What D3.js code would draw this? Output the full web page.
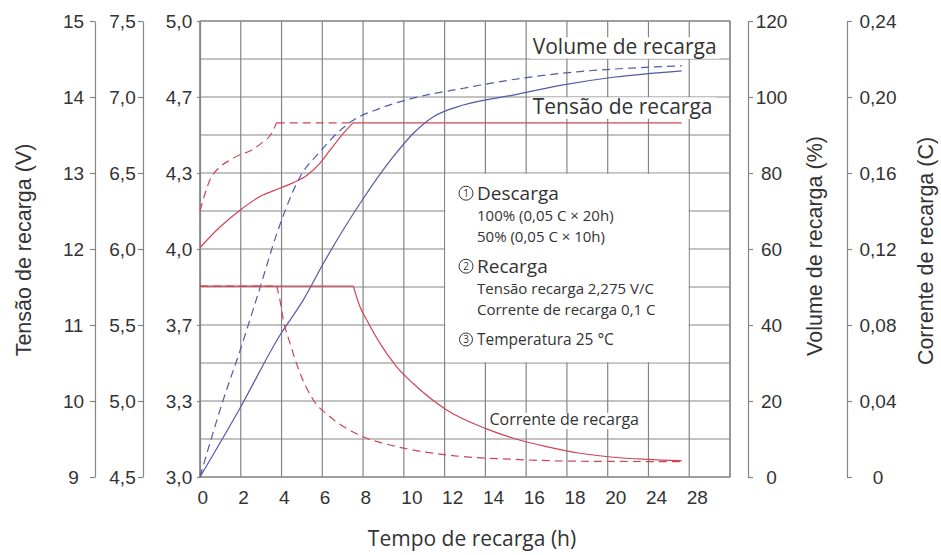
<!DOCTYPE html>
<html>
<head>
<meta charset="utf-8">
<script src="https://cdn.jsdelivr.net/npm/d3@7/dist/d3.min.js"></script>
<style>
html,body{margin:0;padding:0;background:#fff;}
svg{display:block;}
</style>
</head>
<body>
<svg id="chart" width="941" height="555"></svg>
<script>
// ---------- DATA ----------
// x axis: time in grid units (each column = 2 units); labels as printed
const xTickValues = [0,2,4,6,8,10,12,14,16,18,20,22,24];
const xTickLabels = ["0","2","4","6","8","10","12","14","16","18","20","24","28"];

// left axes
const voltTicks = [9,10,11,12,13,14,15];
const voltLabels = ["9","10","11","12","13","14","15"];
const volt2Ticks = [4.5,5.0,5.5,6.0,6.5,7.0,7.5];
const volt2Labels = ["4,5","5,0","5,5","6,0","6,5","7,0","7,5"];
const cellTicks = [3.0,3.333,3.667,4.0,4.333,4.667,5.0];
const cellLabels = ["3,0","3,3","3,7","4,0","4,3","4,7","5,0"];
// right axes
const volTicks = [0,20,40,60,80,100,120];
const volLabels = ["0","20","40","60","80","100","120"];
const curTicks = [0,0.04,0.08,0.12,0.16,0.20,0.24];
const curLabels = ["0","0,04","0,08","0,12","0,16","0,20","0,24"];

// Tensão de recarga (V) — 100% discharge (solid) and 50% discharge (dashed)
const tensao100Rise = [[0,12.02],[0.98,12.29],[1.96,12.51],[2.94,12.69],[3.92,12.80],[4.56,12.87],[5.25,12.97],[5.89,13.13],[6.38,13.30],[6.87,13.47],[7.5,13.66]];
const tensao100Flat = [[7.5,13.66],[23.63,13.66]];
const tensao50Rise = [[0,12.5],[0.49,12.91],[0.98,13.08],[1.47,13.17],[1.96,13.24],[2.45,13.29],[3.1,13.41],[3.43,13.49],[3.76,13.66]];
const tensao50Flat = [[3.76,13.66],[7.5,13.66]];

// Volume de recarga (%)
const vol100 = [[0,0],[1.96,18.1],[3.92,37.3],[5.07,46.6],[6.05,56.2],[8.01,73.3],[9.48,84.3],[10.46,90.4],[11.45,94.8],[12.92,97.9],[15.37,100.5],[17.82,103.2],[20.27,105.2],[23.63,106.9]];
const vol50 = [[0,0],[1.14,20.3],[1.96,33.2],[2.78,47.0],[3.92,66.4],[4.91,79.0],[5.89,85.6],[6.71,90.4],[7.52,93.9],[8.83,97.0],[10.46,99.7],[12.92,102.3],[15.37,104.6],[18.64,106.7],[21.09,107.6],[23.63,108.2]];

// Corrente de recarga (C)
const cur100Flat = [[0,0.1005],[7.52,0.1005]];
const cur100Decay = [[7.52,0.1005],[7.85,0.0896],[8.18,0.0826],[8.83,0.0703],[9.65,0.0580],[10.46,0.0492],[12.1,0.0353],[14.0,0.0256],[15.37,0.0204],[17.0,0.0160],[18.64,0.0125],[20.27,0.0104],[21.9,0.0093],[23.63,0.0086]];
const cur50Flat = [[0,0.1005],[3.76,0.1005]];
const cur50Decay = [[3.76,0.1005],[3.92,0.0932],[4.09,0.0826],[4.42,0.0703],[4.91,0.0546],[5.56,0.0405],[6.38,0.0317],[8.01,0.0212],[9.65,0.0160],[12.1,0.0116],[15.37,0.0093],[18.64,0.0083],[23.63,0.0081]];

// texts
const annotations = [
  {text:"Volume de recarga", x:16.32, v:14.57},
  {text:"Tensão de recarga", x:16.32, v:13.78},
  {text:"Corrente de recarga", x:14.2, v:9.68}
];
const legendItems = [
  {num:"1", head:"Descarga", lines:["100% (0,05 C × 20h)","50% (0,05 C × 10h)"]},
  {num:"2", head:"Recarga", lines:["Tensão recarga 2,275 V/C","Corrente de recarga 0,1 C"]},
  {num:"3", head:"Temperatura 25 °C", lines:[]}
];

// ---------- LAYOUT ----------
const L = 200, R = 730, T = 21, B = 477;
const svg = d3.select("#chart");
const GRID = "#858585";
const RED = "#d04454";
const BLUE = "#5259a8";
const TXT = "#333";
const tickFont = "'Liberation Sans', Arial, sans-serif";
const annFont = "'Open Sans', 'Noto Sans', sans-serif";

const x = d3.scaleLinear().domain([0,26]).range([L,R]);
const yV = d3.scaleLinear().domain([9,15]).range([B,T]);
const yV2 = d3.scaleLinear().domain([4.5,7.5]).range([B,T]);
const yCell = d3.scaleLinear().domain([3,5]).range([B,T]);
const yVol = d3.scaleLinear().domain([0,120]).range([B,T]);
const yCur = d3.scaleLinear().domain([0,0.24]).range([B,T]);

// ---------- GRID ----------
const grid = svg.append("g");
const gridX = d3.range(0, 27, 2);
const gridY = d3.range(9, 15.01, 0.5);
grid.selectAll("line.vx").data(gridX).join("line")
  .attr("x1", d => x(d)).attr("x2", d => x(d))
  .attr("y1", T).attr("y2", B)
  .attr("stroke", GRID).attr("stroke-width", 1.2);
grid.selectAll("line.hy").data(gridY).join("line")
  .attr("x1", L).attr("x2", R)
  .attr("y1", d => yV(d)).attr("y2", d => yV(d))
  .attr("stroke", GRID).attr("stroke-width", 1.2);

// legend box (white, between grid lines)
svg.append("rect")
  .attr("x", x(12) + 0.7).attr("y", yV(13) + 0.7)
  .attr("width", x(24) - x(12) - 1.4).attr("height", yV(10.5) - yV(13) - 1.4)
  .attr("fill", "#fff");

// ---------- AXES ----------
function styleAxis(g){
  g.selectAll("path.domain").attr("stroke", GRID).attr("stroke-width", 1.2);
  g.selectAll(".tick line").attr("stroke", GRID).attr("stroke-width", 1.2);
  g.selectAll(".tick text").attr("fill", TXT)
    .style("font-family", tickFont).style("font-size", "19px");
}
function leftAxis(scale, ticks, labels, xpos, labelCenter){
  const g = svg.append("g").attr("transform", `translate(${xpos},0)`)
    .call(d3.axisLeft(scale).tickValues(ticks).tickFormat((d,i)=>labels[i]).tickSize(5).tickSizeOuter(0));
  styleAxis(g);
  g.selectAll(".tick text").attr("text-anchor","middle").attr("x", labelCenter - xpos);
  return g;
}
function rightAxis(scale, ticks, labels, xpos, labelCenter){
  const g = svg.append("g").attr("transform", `translate(${xpos},0)`)
    .call(d3.axisRight(scale).tickValues(ticks).tickFormat((d,i)=>labels[i]).tickSize(5).tickSizeOuter(0));
  styleAxis(g);
  g.selectAll(".tick text").attr("text-anchor","middle").attr("x", labelCenter - xpos);
  return g;
}
leftAxis(yV, voltTicks, voltLabels, 95, 73.5);
leftAxis(yV2, volt2Ticks, volt2Labels, 143, 122.5);
const ax3 = leftAxis(yCell, cellTicks, cellLabels, L, 179);
ax3.selectAll(".tick line").attr("x2", -3);
rightAxis(yVol, volTicks, volLabels, 748, 771.5);
rightAxis(yCur, curTicks, curLabels, 847, 878);

// bottom axis (labels only)
const gx = svg.append("g").attr("transform", `translate(0,${B})`)
  .call(d3.axisBottom(x).tickValues(xTickValues).tickFormat((d,i)=>xTickLabels[i]).tickSize(0).tickSizeOuter(0));
gx.select("path.domain").remove();
gx.selectAll(".tick text").attr("fill", TXT)
  .style("font-family", tickFont).style("font-size", "19px")
  .attr("text-anchor","start").attr("x", -3).attr("y", 27).attr("dy", 0);

// frame
svg.append("rect").attr("x", L).attr("y", T).attr("width", R-L).attr("height", B-T)
  .attr("fill","none").attr("stroke", GRID).attr("stroke-width", 1.2);

// ---------- AXIS TITLES ----------
function vTitle(txt, xp, yp){
  svg.append("text").attr("transform", `translate(${xp},${yp}) rotate(-90)`)
    .attr("text-anchor","middle").attr("fill", TXT)
    .style("font-family", tickFont).style("font-size","21.5px").text(txt);
}
vTitle("Tensão de recarga (V)", 31, 250);
vTitle("Volume de recarga (%)", 822, 246);
vTitle("Corrente de recarga (C)", 933, 251);
svg.append("text").attr("x", 472).attr("y", 546).attr("text-anchor","middle")
  .attr("fill", TXT).style("font-family", annFont).style("font-size","21px")
  .text("Tempo de recarga (h)");

// ---------- ANNOTATIONS ----------
const annSizes = [21, 21, 16];
annotations.forEach((a,i) => {
  const t = svg.append("text").attr("x", x(a.x)).attr("y", yV(a.v))
    .attr("fill", TXT).style("font-family", annFont).style("font-size", annSizes[i] + "px")
    .text(a.text);
  const bb = t.node().getBBox();
  const fs = annSizes[i];
  svg.insert("rect", () => t.node())
    .attr("x", bb.x - 3).attr("y", yV(a.v) - fs*0.78)
    .attr("width", bb.width + 6).attr("height", fs*1.02)
    .attr("fill", "#fff");
});

// ---------- CURVES ----------
const curves = svg.append("g").attr("fill","none");
function draw(data, yScale, color, dashed, curve){
  const line = d3.line().x(d => x(d[0])).y(d => yScale(d[1])).curve(curve);
  curves.append("path").datum(data).attr("d", line)
    .attr("stroke", color).attr("stroke-width", 1.2)
    .attr("stroke-dasharray", dashed ? "8,5" : null);
}
const mono = d3.curveMonotoneX, lin = d3.curveLinear;
draw(tensao50Rise, yV, RED, true, mono);
draw(tensao50Flat, yV, RED, true, lin);
draw(tensao100Rise, yV, RED, false, mono);
draw(tensao100Flat, yV, RED, false, lin);
draw(vol50, yVol, BLUE, true, mono);
draw(vol100, yVol, BLUE, false, mono);
draw(cur50Flat, yCur, RED, true, lin);
draw(cur50Decay, yCur, RED, true, mono);
draw(cur100Flat, yCur, RED, false, lin);
draw(cur100Decay, yCur, RED, false, mono);

// ---------- LEGEND TEXT ----------
const lg = svg.append("g").attr("fill", TXT).style("font-family", annFont);
const headY = [200, 273, 345];
const headSize = [19, 19, 15.5];
legendItems.forEach((it, i) => {
  const cy = headY[i] - (i < 2 ? 6.8 : 5.5);
  lg.append("circle").attr("cx", 466).attr("cy", cy).attr("r", i < 2 ? 7 : 6.5)
    .attr("fill","none").attr("stroke", TXT).attr("stroke-width", 1);
  lg.append("text").attr("x", 466).attr("y", cy + 3.6).attr("text-anchor","middle")
    .style("font-size","10px").text(it.num);
  lg.append("text").attr("x", 477).attr("y", headY[i])
    .style("font-size", headSize[i] + "px").text(it.head);
  it.lines.forEach((ln, j) => {
    lg.append("text").attr("x", 477).attr("y", headY[i] + 21 + j*20.5)
      .style("font-size","15px").text(ln);
  });
});
</script>
</body>
</html>
